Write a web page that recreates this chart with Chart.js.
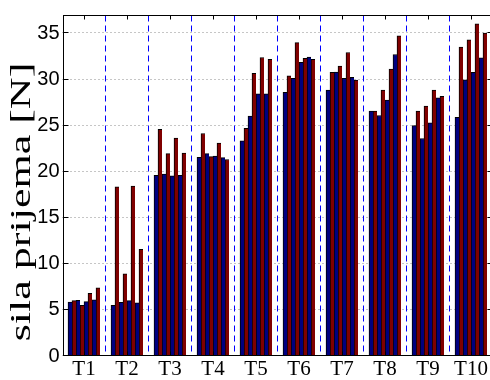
<!DOCTYPE html>
<html>
<head>
<meta charset="utf-8">
<script src="https://cdn.jsdelivr.net/npm/chart.js@4.4.1/dist/chart.umd.min.js"></script>
<style>
  html, body { margin: 0; padding: 0; background: #fff; overflow: hidden; }
  #wrap { position: relative; width: 493px; height: 380px; }
</style>
</head>
<body>
<div id="wrap"><canvas id="c"></canvas></div>
<script>
// Trial groups on the x axis
const categories = ['T1', 'T2', 'T3', 'T4', 'T5', 'T6', 'T7', 'T8', 'T9', 'T10'];

// Four measurement pairs per trial (blue / red), force in N
const blue1 = [5.85, 5.50, 19.60, 21.57, 23.36, 28.60, 28.86, 26.57, 25.00, 25.90];
const red1  = [6.00, 18.35, 24.60, 24.14, 24.70, 30.39, 30.79, 26.57, 26.57, 33.52];
const blue2 = [6.03, 5.82, 19.75, 21.96, 26.04, 30.14, 30.82, 26.10, 23.60, 29.96];
const red2  = [5.50, 8.92, 21.96, 21.64, 30.68, 34.00, 31.46, 28.86, 27.13, 34.31];
const blue3 = [5.90, 6.00, 19.55, 21.68, 28.46, 31.86, 30.14, 27.78, 25.30, 30.77];
const red3  = [6.80, 18.43, 23.64, 23.10, 32.39, 32.29, 32.93, 31.14, 28.84, 36.05];
const blue4 = [6.10, 5.78, 19.60, 21.53, 28.46, 32.43, 30.25, 32.71, 28.00, 32.36];
const red4  = [7.40, 11.57, 22.03, 21.32, 32.18, 32.18, 29.93, 34.75, 28.18, 35.05];

// Value axis
const yTicks = [0, 5, 10, 15, 20, 25, 30, 35];
const yMax = 37;
const yTitle = 'sila prijema [N]';

const BLUE = '#000080';
const RED = '#800000';

const seriesList = [blue1, red1, blue2, red2, blue3, red3, blue4, red4];
const datasets = seriesList.map((values, i) => ({
  data: values,
  backgroundColor: i % 2 === 0 ? BLUE : RED,
  borderColor: '#000',
  borderWidth: { left: 1, top: 1, right: 0, bottom: 0 },
  borderSkipped: false,
  barThickness: 4
}));

// Grid, group separators, inward ticks, box frame and the rotated axis title
const decorations = {
  id: 'decorations',
  beforeDatasetsDraw(chart) {
    const { ctx, chartArea: a, scales: { y } } = chart;
    ctx.save();
    ctx.strokeStyle = '#8c8c8c';
    ctx.lineWidth = 1;
    ctx.setLineDash([1, 3]);
    yTicks.forEach(v => {
      const py = Math.round(y.getPixelForValue(v)) - 0.5;
      ctx.beginPath();
      ctx.moveTo(a.left, py);
      ctx.lineTo(a.right, py);
      ctx.stroke();
    });
    ctx.restore();
  },
  afterDatasetsDraw(chart) {
    const { ctx, chartArea: a, scales: { x, y } } = chart;
    const left = Math.round(a.left) + 0.5;
    const top = Math.round(a.top) + 0.5;
    const bottom = Math.round(a.bottom) - 0.5;
    const right = Math.round(a.right) - 0.5;
    ctx.save();
    ctx.lineWidth = 1;
    // dashed separators between groups
    ctx.strokeStyle = '#0000ff';
    ctx.setLineDash([6, 4]);
    for (let i = 0; i < categories.length - 1; i++) {
      const px = Math.floor((x.getPixelForValue(i) + x.getPixelForValue(i + 1)) / 2) + 0.5;
      ctx.beginPath();
      ctx.moveTo(px, top);
      ctx.lineTo(px, bottom);
      ctx.stroke();
    }
    ctx.setLineDash([]);
    ctx.strokeStyle = '#000';
    // y ticks on both sides
    yTicks.forEach(v => {
      const py = Math.round(y.getPixelForValue(v)) - 0.5;
      ctx.beginPath();
      ctx.moveTo(left, py); ctx.lineTo(left + 5, py);
      ctx.moveTo(right, py); ctx.lineTo(right - 5, py);
      ctx.stroke();
    });
    // x ticks on top and bottom
    categories.forEach((c, i) => {
      const px = Math.round(x.getPixelForValue(i)) + 0.5;
      ctx.beginPath();
      ctx.moveTo(px, top); ctx.lineTo(px, top + 4);
      ctx.moveTo(px, bottom); ctx.lineTo(px, bottom - 4);
      ctx.stroke();
    });
    // frame
    ctx.strokeRect(left, top, right - left, bottom - top);
    ctx.restore();
  },
  afterDraw(chart) {
    const { ctx } = chart;
    ctx.save();
    ctx.translate(22, 202);
    ctx.rotate(-Math.PI / 2);
    ctx.scale(1, 0.66);
    ctx.font = '44px "Liberation Serif"';
    ctx.fillStyle = '#000';
    ctx.textAlign = 'center';
    ctx.textBaseline = 'middle';
    ctx.fillText(yTitle, 0, 0);
    ctx.restore();
  }
};

new Chart(document.getElementById('c'), {
  type: 'bar',
  data: { labels: categories, datasets },
  options: {
    responsive: true,
    maintainAspectRatio: false,
    devicePixelRatio: 1,
    animation: false,
    layout: { padding: { top: 11, right: 0.5, left: 0, bottom: 0 } },
    plugins: { legend: { display: false }, tooltip: { enabled: false } },
    scales: {
      x: {
        grid: { display: false, drawTicks: false },
        border: { display: false },
        ticks: {
          color: '#000',
          padding: 1,
          font: { family: 'Liberation Serif', size: 21 }
        },
        afterFit(scale) { scale.height = 24; }
      },
      y: {
        min: 0,
        max: yMax,
        grid: { display: false, drawTicks: false },
        border: { display: false },
        afterBuildTicks(scale) { scale.ticks = yTicks.map(v => ({ value: v })); },
        ticks: {
          color: '#000',
          padding: 3,
          font: { family: 'Liberation Sans', size: 20 }
        },
        afterFit(scale) { scale.width = 62.5; }
      }
    }
  },
  plugins: [decorations]
});
</script>
</body>
</html>
